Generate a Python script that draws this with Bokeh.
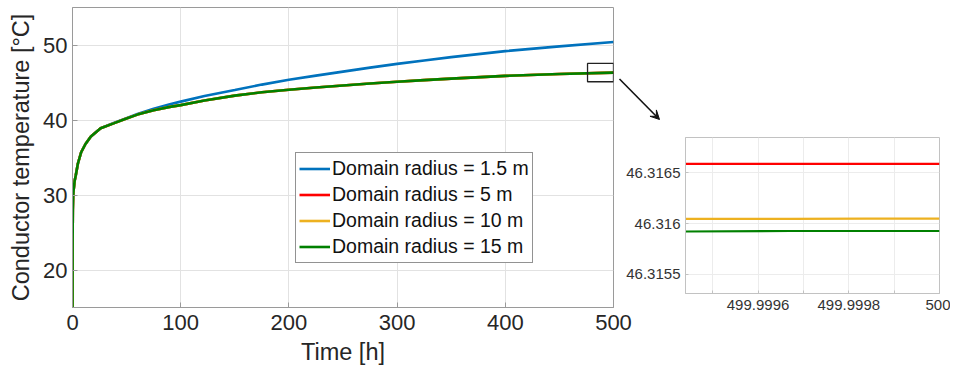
from bokeh.plotting import figure
from bokeh.models import Range1d, FixedTicker, Arrow, VeeHead, BoxAnnotation, GridBox
from bokeh.embed import file_html
from bokeh.resources import INLINE

# ---------------- data ----------------
time_h = [0, 0.1, 0.3, 0.6, 1, 2, 3, 5, 8, 12, 17, 26, 38, 48, 60, 75, 90, 100,
          122, 150, 175, 200, 225, 250, 275, 300, 325, 350, 400, 450, 500]
temp_r1_5 = [15, 23.5, 28.0, 29.8, 30.6, 31.9, 32.6, 34.2, 35.7, 36.8, 37.8, 38.9,
             39.6, 40.15, 40.8, 41.5, 42.1, 42.45, 43.2, 44.0, 44.72, 45.36, 45.92,
             46.45, 46.98, 47.48, 47.94, 48.38, 49.18, 49.82, 50.4]
temp_r5 = [15, 23.5, 28.0, 29.8, 30.6, 31.9, 32.6, 34.2, 35.7, 36.8, 37.8, 38.9,
           39.55, 40.1, 40.72, 41.3, 41.75, 41.98, 42.6, 43.25, 43.7, 44.03, 44.33,
           44.6, 44.86, 45.1, 45.32, 45.52, 45.88, 46.13, 46.3166]
temp_r10 = [15, 23.5, 28.0, 29.8, 30.6, 31.9, 32.6, 34.2, 35.7, 36.8, 37.8, 38.9,
            39.55, 40.1, 40.72, 41.3, 41.75, 41.98, 42.6, 43.25, 43.7, 44.03, 44.33,
            44.6, 44.86, 45.1, 45.32, 45.52, 45.88, 46.13, 46.31605]
temp_r15 = [15, 23.5, 28.0, 29.8, 30.6, 31.9, 32.6, 34.2, 35.7, 36.8, 37.8, 38.9,
            39.55, 40.1, 40.72, 41.3, 41.75, 41.98, 42.6, 43.25, 43.7, 44.03, 44.33,
            44.6, 44.86, 45.1, 45.32, 45.52, 45.88, 46.13, 46.31593]

series_labels = ["Domain radius = 1.5 m", "Domain radius = 5 m",
                 "Domain radius = 10 m", "Domain radius = 15 m"]
series_colors = ["#0072BD", "#FF0000", "#EDB120", "#008000"]

x_ticks = [0, 100, 200, 300, 400, 500]
y_ticks = [20, 30, 40, 50]

# zoomed window (inset)
zoom_time = [499.99944, 499.99967, 499.99984, 500.0]
zoom_r5 = [46.316589, 46.316589, 46.316589, 46.316589]
zoom_r10 = [46.316047, 46.316047, 46.316050, 46.316050]
zoom_r15 = [46.315922, 46.315927, 46.315927, 46.315927]
zoom_x_ticks = [499.9995, 499.9996, 499.9997, 499.9998, 499.9999, 500.0]
zoom_x_labels = ["", "499.9996", "", "499.9998", "", "500"]
zoom_y_ticks = [46.3155, 46.316, 46.3165]
zoom_y_labels = ["46.3155", "46.316", "46.3165"]

# zoom marker box on the main plot (data units)
zoom_box_time = [476, 500]
zoom_box_temp = [45.1, 47.55]

# ---------------- layout / style ----------------
W, H = 950, 374
FONT = "Liberation Sans"
AX_MAIN = "#9a9a9a"
AX_INSET = "#c2c2c2"

# ---------------- main plot ----------------
p = figure(width=W, height=H, output_backend="svg", toolbar_location=None,
           x_range=Range1d(0, 500), y_range=Range1d(15, 55),
           min_border_left=72, min_border_right=337, min_border_top=7,
           min_border_bottom=67, frame_align=False)
p.title.visible = False
p.outline_line_color = AX_MAIN
p.outline_line_width = 1
p.background_fill_color = "white"
p.border_fill_color = "white"

temps = [temp_r1_5, temp_r5, temp_r10, temp_r15]
for ys, col, lab in zip(temps, series_colors, series_labels):
    p.line(time_h, ys, line_color=col, line_width=2.6, legend_label=lab)

p.add_layout(BoxAnnotation(left=zoom_box_time[0], right=zoom_box_time[1],
                           bottom=zoom_box_temp[0], top=zoom_box_temp[1],
                           fill_alpha=0, line_color="#222222", line_alpha=1,
                           line_width=1.3))

p.xaxis.ticker = FixedTicker(ticks=x_ticks)
p.yaxis.ticker = FixedTicker(ticks=y_ticks)
p.xaxis.axis_label = "Time [h]"
p.yaxis.axis_label = "Conductor temperature [°C]"
for ax in (p.xaxis[0], p.yaxis[0]):
    ax.axis_line_color = AX_MAIN
    ax.major_tick_line_color = AX_MAIN
    ax.major_tick_in = 5
    ax.major_tick_out = 0
    ax.minor_tick_line_color = None
    ax.major_label_text_font = FONT
    ax.major_label_text_font_size = "22px"
    ax.major_label_text_color = "#262626"
    ax.axis_label_text_font = FONT
    ax.axis_label_text_font_size = "23.5px"
    ax.axis_label_text_font_style = "normal"
    ax.axis_label_text_color = "#262626"
p.xaxis.major_label_standoff = 7
p.xaxis.axis_label_standoff = 6
p.yaxis.major_label_standoff = 5
p.yaxis.axis_label_standoff = 6
p.grid.grid_line_color = "#e2e2e2"
p.grid.grid_line_width = 1

leg = p.legend[0]
leg.location = (223, 44)
leg.margin = 0
leg.padding = 3
leg.spacing = 1
leg.glyph_width = 31
leg.glyph_height = 25
leg.label_height = 25
leg.label_standoff = 2
leg.label_text_font = FONT
leg.label_text_font_size = "19.5px"
leg.label_text_color = "#111111"
leg.border_line_color = "#262626"
leg.border_line_width = 1
leg.background_fill_color = "white"
leg.background_fill_alpha = 1

# ---------------- inset ----------------
q = figure(width=W, height=H, output_backend="svg", toolbar_location=None,
           x_range=Range1d(499.99944, 500.0), y_range=Range1d(46.31531, 46.31685),
           min_border_left=685, min_border_right=11, min_border_top=137,
           min_border_bottom=81, frame_align=False)
q.title.visible = False
q.border_fill_color = None
q.background_fill_color = "white"
q.outline_line_color = AX_INSET
for ys, col in zip([zoom_r5, zoom_r10, zoom_r15], series_colors[1:]):
    q.line(zoom_time, ys, line_color=col, line_width=2.2)
q.xaxis.ticker = FixedTicker(ticks=zoom_x_ticks)
q.yaxis.ticker = FixedTicker(ticks=zoom_y_ticks)
q.xaxis.major_label_overrides = dict(zip(zoom_x_ticks, zoom_x_labels))
q.yaxis.major_label_overrides = dict(zip(zoom_y_ticks, zoom_y_labels))
for ax in (q.xaxis[0], q.yaxis[0]):
    ax.axis_line_color = AX_INSET
    ax.major_tick_line_color = AX_INSET
    ax.major_tick_in = 3
    ax.major_tick_out = 0
    ax.minor_tick_line_color = None
    ax.major_label_text_font = FONT
    ax.major_label_text_font_size = "15px"
    ax.major_label_text_color = "#333333"
q.xaxis.major_label_standoff = 6
q.yaxis.major_label_standoff = 5
q.grid.grid_line_color = "#ececec"

# ---------------- arrow overlay ----------------
a = figure(width=W, height=H, output_backend="svg", toolbar_location=None,
           x_range=Range1d(0, W), y_range=Range1d(H, 0),
           x_axis_type=None, y_axis_type=None, min_border=0, frame_align=False)
a.title.visible = False
a.background_fill_color = None
a.border_fill_color = None
a.outline_line_color = None
a.add_layout(Arrow(end=VeeHead(size=9, fill_color="#111111", line_color="#111111", line_width=1),
                   x_start=619, y_start=78.5, x_end=659, y_end=119,
                   line_color="#111111", line_width=1.6))

layout = GridBox(children=[(p, 0, 0), (q, 0, 0), (a, 0, 0)])

open("out.html", "w").write(file_html(layout, INLINE))
